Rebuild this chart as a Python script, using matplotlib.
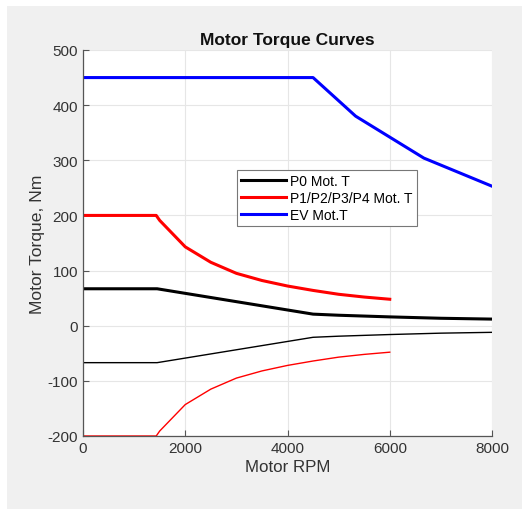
import matplotlib.pyplot as plt
from matplotlib.patches import Rectangle

# motor torque data
p0_rpm = [0, 1450, 4500, 5000, 6000, 7000, 8000]
p0_torque = [67, 67, 21, 19, 16, 13.5, 12]
p0_regen = [-67, -67, -21, -19, -16, -13.5, -12]

p14_rpm = [0, 1432, 1500, 2000, 2500, 3000, 3500, 4000, 4500, 5000, 5500, 6000]
p14_torque = [200, 200, 191, 143, 115, 95, 82, 72, 64, 57, 52, 48]
p14_regen = [-200, -200, -191, -143, -115, -95, -82, -72, -64, -57, -52, -48]

ev_rpm = [0, 4500, 5333, 6667, 8000]
ev_torque = [450, 450, 380, 304, 253]

plt.rcParams['font.family'] = ['Liberation Sans', 'DejaVu Sans']
plt.rcParams['axes.unicode_minus'] = False

fig = plt.figure(figsize=(5.22, 5.10), dpi=100, facecolor='white')
fig.patches.append(Rectangle((7 / 522, 0), 1, 1 - 7 / 510, transform=fig.transFigure,
                             facecolor='#f0f0f0', edgecolor='none', zorder=-10))
ax = fig.add_axes([83 / 522, 1 - 437 / 510, 409 / 522, 386 / 510])

ax.plot(p0_rpm, p0_torque, color='black', lw=2.2, label='P0 Mot. T')
ax.plot(p14_rpm, p14_torque, color='#ff0000', lw=2.2, label='P1/P2/P3/P4 Mot. T')
ax.plot(ev_rpm, ev_torque, color='#0000ff', lw=2.2, label='EV Mot.T')
ax.plot(p0_rpm, p0_regen, color='black', lw=1.0)
ax.plot(p14_rpm, p14_regen, color='#ff0000', lw=1.0)

ax.set_xlim(0, 8000)
ax.set_ylim(-200, 500)
ax.set_xticks([0, 2000, 4000, 6000, 8000])
ax.set_yticks([-200, -100, 0, 100, 200, 300, 400, 500])
ax.grid(True, color='#e6e6e6', lw=0.8)
ax.set_axisbelow(True)
for s in ['top', 'right']:
    ax.spines[s].set_visible(False)
for s in ['left', 'bottom']:
    ax.spines[s].set_color('#555555')
    ax.spines[s].set_linewidth(0.9)
ax.tick_params(direction='in', length=4, colors='#555555', labelcolor='#333333', labelsize=11)

ax.set_title('Motor Torque Curves', fontsize=12.5, fontweight='bold', color='#111111', pad=4)
ax.set_xlabel('Motor RPM', fontsize=12.2, color='#333333', labelpad=3)
ax.set_ylabel('Motor Torque, Nm', fontsize=12.6, color='#333333', labelpad=2)

leg = ax.legend(loc='upper left', bbox_to_anchor=(147 / 409, (437 - 164) / 386),
                fontsize=10, fancybox=False, framealpha=1, edgecolor='#777777',
                handlelength=3.2, borderpad=0.3, labelspacing=0.2, handletextpad=0.35)
leg.get_frame().set_linewidth(0.8)

fig.savefig('out.png', dpi=100, facecolor=fig.get_facecolor())
